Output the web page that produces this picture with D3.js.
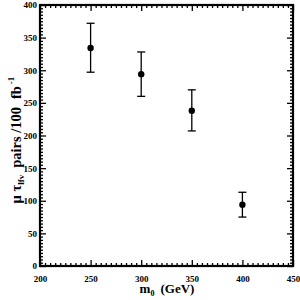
<!DOCTYPE html>
<meta charset="utf-8">
<style>
body,html{ margin:0; padding:0; background:#fff; }
svg{ display:block; }
text{ font-family:"Liberation Serif","DejaVu Serif",serif; font-weight:bold; fill:#000; }
</style>
<svg width="300" height="300"></svg>
<script src="https://d3js.org/d3.v7.min.js"></script>
<script>
var masses = [250, 300, 350, 400];
var pairs  = [334, 294, 238, 94];
var errLo  = [297, 260, 207, 75];
var errHi  = [372, 328, 270, 113];
var xTicks = [200, 250, 300, 350, 400, 450];
var yTicks = [0, 50, 100, 150, 200, 250, 300, 350, 400];

var svg = d3.select("svg");
var mLeft = 40, mRight = 293, mTop = 5, mBottom = 266;

var x = d3.scaleLinear().domain([200, 450]).range([mLeft, mRight]);
var y = d3.scaleLinear().domain([0, 400]).range([mBottom, mTop]);

var minorX = d3.range(200, 451, 5).filter(function(v){ return v % 50 != 0; });
var minorY = d3.range(0, 401, 5).filter(function(v){ return v % 50 != 0; });

function styleAxis(g){
  g.select(".domain").remove();
  g.selectAll("line").attr("stroke", "#000").attr("stroke-width", 1.3);
}

// bottom / top
svg.append("g").attr("transform", "translate(0," + mBottom + ")")
  .call(d3.axisBottom(x).tickValues(xTicks).tickSize(-6).tickPadding(10).tickFormat(d3.format("d")))
  .call(styleAxis)
  .selectAll("text").attr("font-size", 9).style("font-family", "Liberation Serif").style("font-weight", "bold");
svg.append("g").attr("transform", "translate(0," + mBottom + ")")
  .call(d3.axisBottom(x).tickValues(minorX).tickSize(-3).tickFormat(""))
  .call(styleAxis);
svg.append("g").attr("transform", "translate(0," + mTop + ")")
  .call(d3.axisTop(x).tickValues(xTicks).tickSize(-6).tickFormat(""))
  .call(styleAxis);
svg.append("g").attr("transform", "translate(0," + mTop + ")")
  .call(d3.axisTop(x).tickValues(minorX).tickSize(-3).tickFormat(""))
  .call(styleAxis);

// left / right
svg.append("g").attr("transform", "translate(" + mLeft + ",0)")
  .call(d3.axisLeft(y).tickValues(yTicks).tickSize(-6).tickPadding(3).tickFormat(d3.format("d")))
  .call(styleAxis)
  .selectAll("text").attr("font-size", 9).style("font-family", "Liberation Serif").style("font-weight", "bold");
svg.append("g").attr("transform", "translate(" + mLeft + ",0)")
  .call(d3.axisLeft(y).tickValues(minorY).tickSize(-3).tickFormat(""))
  .call(styleAxis);
svg.append("g").attr("transform", "translate(" + mRight + ",0)")
  .call(d3.axisRight(y).tickValues(yTicks).tickSize(-6).tickFormat(""))
  .call(styleAxis);
svg.append("g").attr("transform", "translate(" + mRight + ",0)")
  .call(d3.axisRight(y).tickValues(minorY).tickSize(-3).tickFormat(""))
  .call(styleAxis);

// frame
svg.append("rect")
  .attr("x", mLeft).attr("y", mTop)
  .attr("width", mRight - mLeft).attr("height", mBottom - mTop)
  .attr("fill", "none").attr("stroke", "#000").attr("stroke-width", 2.2);

// error bars
var pts = masses.map(function(m, i){ return {m:m, v:pairs[i], lo:errLo[i], hi:errHi[i]}; });
var eb = svg.append("g").attr("stroke", "#000").attr("stroke-width", 1.3);
eb.selectAll(".v").data(pts).enter().append("line")
  .attr("x1", function(d){ return x(d.m); }).attr("x2", function(d){ return x(d.m); })
  .attr("y1", function(d){ return y(d.lo); }).attr("y2", function(d){ return y(d.hi); });
eb.selectAll(".t").data(pts).enter().append("line")
  .attr("x1", function(d){ return x(d.m) - 4; }).attr("x2", function(d){ return x(d.m) + 4; })
  .attr("y1", function(d){ return y(d.hi); }).attr("y2", function(d){ return y(d.hi); });
eb.selectAll(".b").data(pts).enter().append("line")
  .attr("x1", function(d){ return x(d.m) - 4; }).attr("x2", function(d){ return x(d.m) + 4; })
  .attr("y1", function(d){ return y(d.lo); }).attr("y2", function(d){ return y(d.lo); });

svg.append("g").selectAll("circle").data(pts).enter().append("circle")
  .attr("cx", function(d){ return x(d.m); })
  .attr("cy", function(d){ return y(d.v); })
  .attr("r", 3.2).attr("fill", "#000");

// axis titles
var xl = svg.append("text").attr("x", 167).attr("y", 293).attr("text-anchor", "middle").attr("font-size", 13);
xl.append("tspan").text("m");
xl.append("tspan").attr("font-size", 8).attr("dy", 3).text("0");
xl.append("tspan").attr("dy", -3).attr("dx", 6).text("(GeV)");

var yl = svg.append("text").attr("transform", "translate(21,140) rotate(-90)")
  .attr("text-anchor", "middle").attr("font-size", 14.5);
yl.append("tspan").text("μ τ");
yl.append("tspan").attr("font-size", 9).attr("dy", 3).text("lfv");
yl.append("tspan").attr("dy", -3).attr("dx", 7).text("pairs /100");
yl.append("tspan").attr("dx", 8).text("fb");
yl.append("tspan").attr("font-size", 9).attr("dy", -7).attr("dx", 2).text("-1");
</script>
